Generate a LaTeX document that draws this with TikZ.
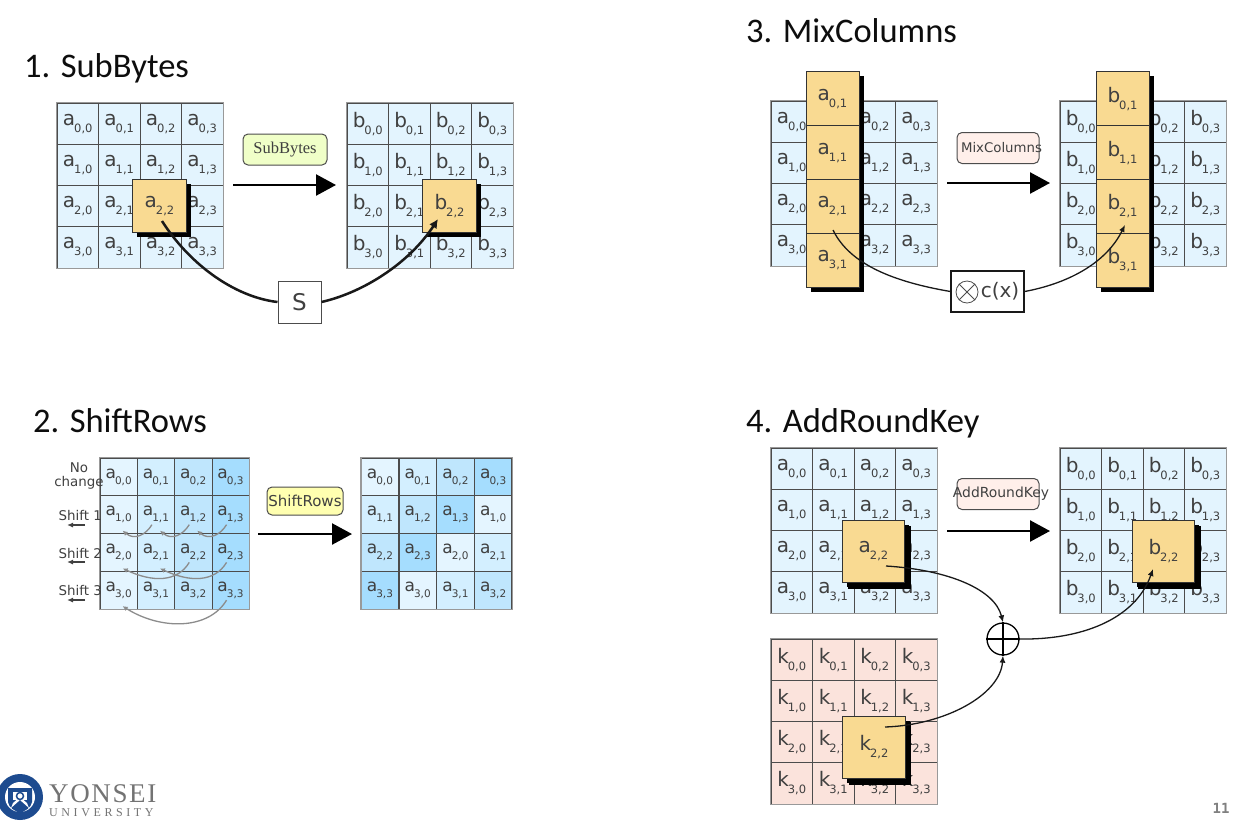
\documentclass[tikz,border=0pt]{standalone}
\usepackage{fontspec}
\setmainfont{DejaVu Sans}
\newfontfamily\titlefont{Carlito}
\newfontfamily\pillfont{Liberation Serif}
\newfontfamily\monofont{DejaVu Sans Mono}
\newfontfamily\logofont[LetterSpace=6]{Liberation Serif}
\newfontfamily\logosmallfont[LetterSpace=30]{Liberation Serif}
\usetikzlibrary{arrows.meta,positioning,shadows}

\definecolor{cellblue}{HTML}{E3F4FE}
\definecolor{cellpink}{HTML}{FBE3DC}
\definecolor{cellhot}{HTML}{F9DA92}
\definecolor{shadeA}{HTML}{E4F5FF}
\definecolor{shadeB}{HTML}{D3EFFF}
\definecolor{shadeC}{HTML}{BFE6FD}
\definecolor{shadeD}{HTML}{A5DDFE}
\definecolor{pillgreen}{HTML}{F0FFC8}
\definecolor{pillyellow}{HTML}{FFFFB0}
\definecolor{pillrose}{HTML}{FFEFEA}
\definecolor{sealblue}{HTML}{1D4B8F}

\newcommand{\cellsub}[2]{#1\hspace{-1pt}\raisebox{-0.35em}{\fontsize{11.5}{12}\selectfont #2}}
\newcommand{\smallsub}[2]{#1\hspace{-1pt}\raisebox{-0.35em}{\fontsize{10.5}{11}\selectfont #2}}

\begin{document}
\begin{tikzpicture}[
x=1pt,y=-1pt,
cell/.style={draw=black!70,line width=0.7pt,minimum width=41.5pt,minimum height=41.25pt,
    inner sep=0pt,text=black!75,font=\fontsize{20}{22}\selectfont},
smallcell/.style={cell,minimum width=37.3pt,minimum height=37.75pt,
    font=\fontsize{17}{19}\selectfont},
rim/.style={draw=black!40,line width=1.2pt},
hot/.style={draw=black!80,fill=cellhot,line width=0.9pt,inner sep=0pt,text=black!75,
    font=\fontsize{20}{22}\selectfont,
    general shadow={fill=black,shadow xshift=4.5pt,shadow yshift=-4.5pt}},
bighot/.style={hot,minimum size=62.5pt,
    general shadow={fill=black,shadow xshift=6pt,shadow yshift=-6pt}},
pill/.style={draw=black!70,line width=1pt,rounded corners=5pt,inner sep=0pt,
    minimum width=82pt,minimum height=31pt,text=black!75},
title/.style={anchor=base west,inner sep=0pt,font=\titlefont\fontsize{34.5}{36}\selectfont,text=black!95},
opbox/.style={draw=black!70,fill=white,inner sep=0pt,text=black!75},
bigarrow/.style={-{Triangle[length=20pt,width=21pt]},line width=2.4pt},
curve/.style={-{Latex[length=7pt,width=6pt]},line width=1.3pt,black!90},
plainjoin/.style={line width=1.3pt,black!90},
wraparrow/.style={-{Latex[length=5pt,width=5pt]},black!45,line width=1.3pt},
shiftlabel/.style={inner sep=0pt,text=black!75,font=\fontsize{13.4}{14.5}\selectfont},
>=latex]

\useasboundingbox (0,0) rectangle (1246,820);

% titles
\node[title] (title1) at (24,77) {1. SubBytes};
\node[title] (title2) at (33,432) {2. ShiftRows};
\node[title] (title3) at (746,42) {3. MixColumns};
\node[title] (title4) at (746,432) {4. AddRoundKey};

% the large state grids
\foreach \gname/\letter/\ox/\oy/\tint in {suba/a/57/103/cellblue,subb/b/347/103/cellblue,
    mixa/a/771/101/cellblue,mixb/b/1060/101/cellblue,
    adda/a/771/448/cellblue,addb/b/1060/448/cellblue,addk/k/771/639/cellpink}
{
\foreach \r in {0,...,3}
    \foreach \c in {0,...,3}
        \node[cell,fill=\tint] (\gname-\r-\c) at ({\ox+41.5*\c+20.75},{\oy+41.25*\r+20.6}) {\cellsub{\letter}{\r,\c}};
\draw[rim] (\gname-0-0.north west) rectangle (\gname-3-3.south east);
}

% ShiftRows grids, coloured by source column
\foreach \r in {0,...,3}
    \foreach \c in {0,...,3}
    {
    \pgfmathtruncatemacro{\src}{mod(\c+\r,4)}
    \ifcase\c \def\tint{shadeA}\or \def\tint{shadeB}\or \def\tint{shadeC}\or \def\tint{shadeD}\fi
    \node[smallcell,fill=\tint] (sra-\r-\c) at ({100+37.3*\c+18.65},{458+37.75*\r+18.9}) {\smallsub{a}{\r,\c}};
    \ifcase\src \def\tint{shadeA}\or \def\tint{shadeB}\or \def\tint{shadeC}\or \def\tint{shadeD}\fi
    \node[smallcell,fill=\tint] (srb-\r-\c) at ({361+37.75*\c+18.9},{458+37.75*\r+18.9}) {\smallsub{a}{\r,\src}};
    }
\draw[rim] (sra-0-0.north west) rectangle (sra-3-3.south east);
\draw[rim] (srb-0-0.north west) rectangle (srb-3-3.south east);

% row labels of ShiftRows
\node[shiftlabel,align=center] (nochange) at (79,476) {No\\change};
\foreach \ai/\ay/\aay in {1/515/525,2/553/562,3/590/600}
{
\node[shiftlabel,anchor=east] (shift\ai) at (102,\ay) {Shift \ai};
\coordinate (shifttail\ai) at (85,\aay);
\coordinate (shifthead\ai) at (67,\aay);
\draw[-{Latex[length=6pt,width=5pt]},line width=1.2pt,black!75] (shifttail\ai) -- (shifthead\ai);
}

% gray wrap arrows of ShiftRows
\foreach \ai/\aii in {1/0,2/1,3/2}
    \draw[wraparrow] ([shift={(-4,10)}]sra-1-\ai.center) .. controls +(-6,10) and +(12,10) .. ([shift={(4,16)}]sra-1-\aii.center);
\foreach \ai/\aii in {2/0,3/1}
    \draw[wraparrow] ([shift={(-4,10)}]sra-2-\ai.center) .. controls +(-12,20) and +(30,14) .. ([shift={(4,16)}]sra-2-\aii.center);
\draw[wraparrow] ([shift={(-4,10)}]sra-3-3.center) .. controls +(-18,30) and +(38,24) .. ([shift={(4,16)}]sra-3-0.center);

% highlighted cells
\node[hot,minimum size=53.5pt] (subhota) at (159.5,206) {\cellsub{a}{2,2}};
\node[hot,minimum size=53.5pt] (subhotb) at (449.5,206) {\cellsub{b}{2,2}};
\foreach \r in {0,...,3}
{
\node[hot,minimum width=53pt,minimum height=54pt] (mixhota\r) at (832.5,{72+53.75*\r+26.9}) {\cellsub{a}{\r,1}};
\node[hot,minimum width=53pt,minimum height=54pt] (mixhotb\r) at (1122.5,{72+53.75*\r+26.9}) {\cellsub{b}{\r,1}};
}
\node[bighot] (addhota) at (873.5,551.5) {\cellsub{a}{2,2}};
\node[bighot] (addhotb) at (1163.5,551.5) {\cellsub{b}{2,2}};
\node[bighot] (addhotk) at (874,747.5) {\cellsub{k}{2,2}};

% round step labels
\node[pill,fill=pillgreen,minimum width=84pt] (pillsub) at (285,149.5) {\makebox[0pt]{\pillfont\fontsize{16.5}{18}\selectfont SubBytes}};
\node[pill,fill=pillyellow,minimum width=76pt,minimum height=28pt] (pillshift) at (305,501) {\makebox[0pt]{\fontsize{15}{17}\selectfont ShiftRows}};
\node[pill,fill=pillrose] (pillmix) at (998,148) {\makebox[0pt]{\hspace{7pt}\fontsize{13.3}{15}\selectfont MixColumns}};
\node[pill,fill=pillrose] (pilladd) at (998,494) {\makebox[0pt]{\hspace{6pt}\fontsize{13.9}{15}\selectfont AddRoundKey}};

% step arrows between the grids
\foreach \cname/\xa/\xb/\ay in {sub/233/336/185,shift/258/352/534,mix/947/1050/183,add/947/1050/531}
{
\coordinate (\cname tail) at (\xa,\ay);
\coordinate (\cname head) at (\xb,\ay);
\draw[bigarrow] (\cname tail) -- (\cname head);
}

% substitution and mixing boxes
\node[opbox,line width=1pt,minimum width=43pt,minimum height=42pt,font=\fontsize{23}{25}\selectfont] (sbox) at (299.5,302) {S};
\node[opbox,draw=black!90,line width=1.2pt,minimum width=73pt,minimum height=41pt,font=\fontsize{20}{22}\selectfont] (cbox) at (987.5,291.5) {\hspace{25pt}c(x)};
\node[draw=black!70,circle,line width=0.8pt,minimum size=22pt,inner sep=0pt,anchor=center] (otimes) at (967,292) {};
\draw[black!70,line width=0.8pt] (otimes.north west) -- (otimes.south east);
\draw[black!70,line width=0.8pt] (otimes.north east) -- (otimes.south west);
\node[draw=black,circle,line width=1.3pt,minimum size=32pt,inner sep=0pt] (xorgate) at (1003,639) {};
\draw[line width=1.3pt] (xorgate.north) -- (xorgate.south);
\draw[line width=1.3pt] (xorgate.west) -- (xorgate.east);

% data flow curves
\coordinate (subsrc) at (162,221);
\coordinate (subdst) at (438,219);
\draw[line width=2.5pt,black!90] (subsrc) .. controls (190,265) and (235,297) .. (sbox.west);
\draw[-{Latex[length=9pt,width=9pt]},line width=2.5pt,black!90] (sbox.east) .. controls (365,292) and (410,262) .. (subdst);

\coordinate (mixsrc) at (833,230);
\coordinate (mixdst) at (1125,225);
\draw[plainjoin] (mixsrc) .. controls (850,265) and (895,282) .. (cbox.west);
\draw[curve] (cbox.east) .. controls (1065,284) and (1105,265) .. (mixdst);

\coordinate (addsrca) at (886,566);
\coordinate (addsrck) at (885,727);
\coordinate (adddst) at (1153,569);
\draw[curve] (addsrca) .. controls (950,570) and (995,590) .. (xorgate.north);
\draw[curve] (addsrck) .. controls (945,725) and (1000,695) .. (xorgate.south);
\draw[curve] (xorgate.east) .. controls (1080,640) and (1135,620) .. (adddst);

% logo and page number
\node[circle,fill=sealblue,minimum size=46pt,inner sep=0pt] (seal) at (20,797) {};
\node[circle,fill=white,minimum size=30pt,inner sep=0pt] (sealinner) at (20,797) {};
\fill[sealblue] (8,788) -- (32,788) -- (32,802) .. controls (31,808) and (25,811) .. (20,813) .. controls (15,811) and (9,808) .. (8,802) -- cycle;
\fill[white] (13,792) rectangle (27,800);
\fill[white] (11,808) -- (20,800) -- (29,808) -- (27,803) -- (20,797) -- (13,803) -- cycle;
\node[circle,draw=sealblue,fill=white,line width=1.5pt,minimum size=7pt,inner sep=0pt] (sealeye) at (20,796) {};
\node[inner sep=0pt,anchor=west,text=black!55] (yonsei) at (49,794) {\logofont\fontsize{27}{29}\selectfont YONSEI};
\node[inner sep=0pt,anchor=west,text=black!55] (university) at (49,812.5) {\logosmallfont\fontsize{12}{14}\selectfont UNIVERSITY};
\node[inner sep=0pt,text=black!50] (pageno) at (1221,808) {\monofont\bfseries\fontsize{14}{16}\selectfont 11};
\end{tikzpicture}
\end{document}
